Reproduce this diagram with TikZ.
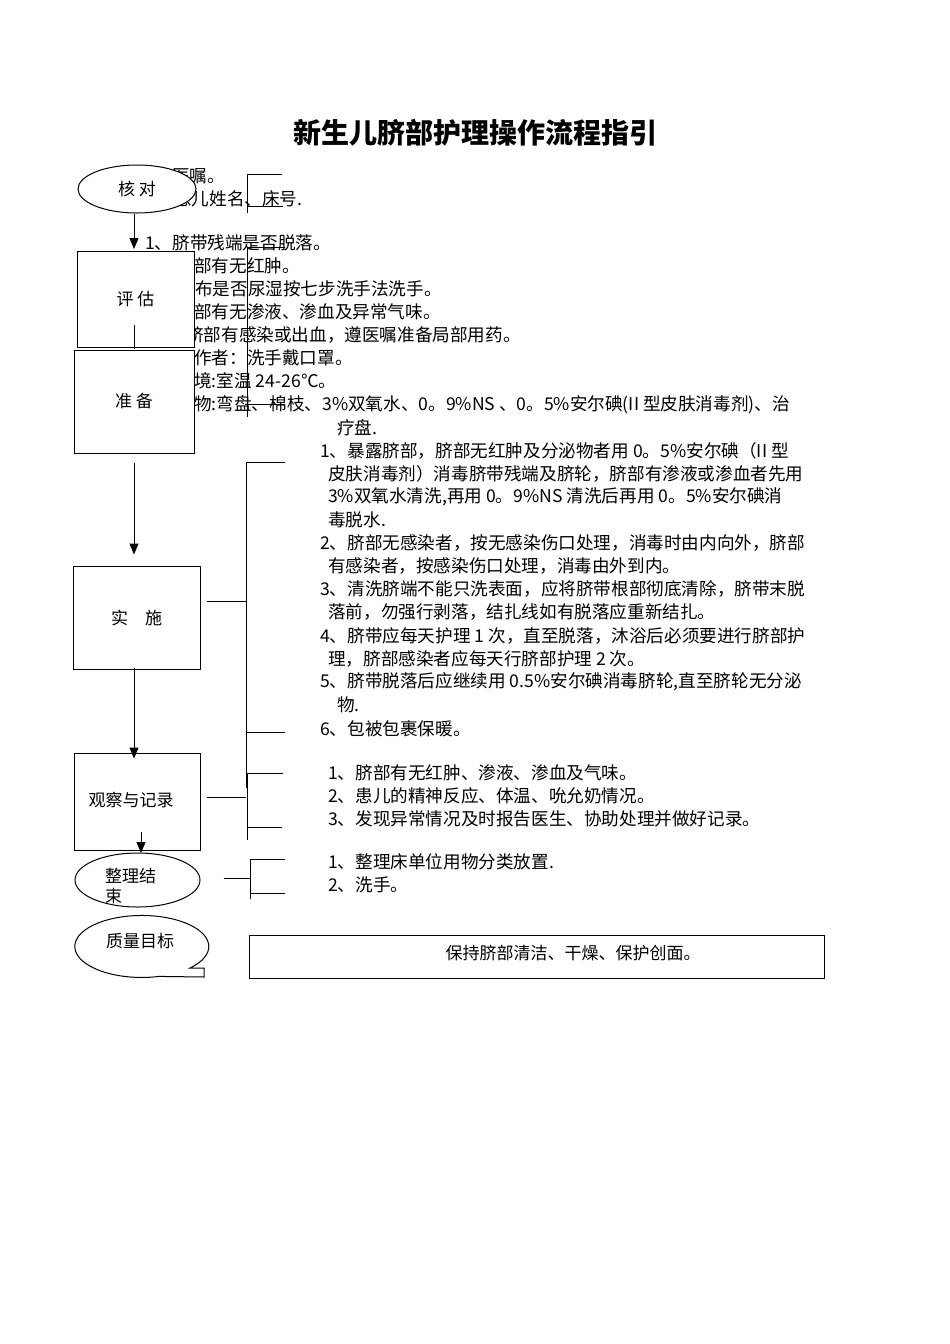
\documentclass[tikz,border=0pt]{standalone}
\usepackage{fontspec}
\setmainfont{Noto Sans CJK SC}
\usetikzlibrary{shapes,arrows.meta}

\tikzset{
  txt/.style={anchor=west, inner sep=0pt, font=\fontsize{17.6}{20}\selectfont},
  flowbox/.style={draw, fill=white, line width=1pt, inner sep=0pt, font=\fontsize{17}{20}\selectfont},
  flowell/.style={flowbox, ellipse},
  brk/.style={line width=1pt}
}

\begin{document}
\begin{tikzpicture}[x=1pt, y=-1pt, >={Triangle[length=11pt,width=9pt]}]
\useasboundingbox (0,0) rectangle (950,1344);

\node[font=\bfseries\fontsize{28}{32}\selectfont] (title) at (475,133) {新生儿脐部护理操作流程指引};

% text of the left column
\node[txt] (t1) at (172,176) {医嘱。};
\node[txt] (t2) at (174,199) {患儿姓名、床号.};
\node[txt] (t3) at (145,243) {1、脐带残端是否脱落。};
\node[txt] (t4) at (194,266) {部有无红肿。};
\node[txt] (t5) at (195,289) {布是否尿湿按七步洗手法洗手。};
\node[txt] (t6) at (194,312) {部有无渗液、渗血及异常气味。};
\node[txt] (t7) at (186,335) {脐部有感染或出血，遵医嘱准备局部用药。};
\node[txt] (t8) at (194,358) {作者：洗手戴口罩。};
\node[txt] (t9) at (194,381) {境:室温 24-26℃。};
\node[txt] (t10) at (194,405) {物:弯盘、棉枝、3\%双氧水、0。9\%NS 、0。5\%安尔碘(II 型皮肤消毒剂)、治};
\node[txt] (t11) at (337,428) {疗盘.};

\node[txt] (s1) at (320,451) {1、暴露脐部，脐部无红肿及分泌物者用 0。5\%安尔碘（II 型};
\node[txt] (s2) at (328,474) {皮肤消毒剂）消毒脐带残端及脐轮，脐部有渗液或渗血者先用};
\node[txt] (s3) at (328,497) {3\%双氧水清洗,再用 0。9\%NS 清洗后再用 0。5\%安尔碘消};
\node[txt] (s4) at (328,520) {毒脱水.};
\node[txt] (s5) at (320,543) {2、脐部无感染者，按无感染伤口处理，消毒时由内向外，脐部};
\node[txt] (s6) at (328,566) {有感染者，按感染伤口处理，消毒由外到内。};
\node[txt] (s7) at (320,589) {3、清洗脐端不能只洗表面，应将脐带根部彻底清除，脐带末脱};
\node[txt] (s8) at (328,612) {落前，勿强行剥落，结扎线如有脱落应重新结扎。};
\node[txt] (s9) at (320,636) {4、脐带应每天护理 1 次，直至脱落，沐浴后必须要进行脐部护};
\node[txt] (s10) at (328,659) {理，脐部感染者应每天行脐部护理 2 次。};
\node[txt] (s11) at (320,682) {5、脐带脱落后应继续用 0.5\%安尔碘消毒脐轮,直至脐轮无分泌};
\node[txt] (s12) at (337,705) {物.};
\node[txt] (s13) at (320,729) {6、包被包裹保暖。};

\node[txt] (g1) at (328,773) {1、脐部有无红肿、渗液、渗血及气味。};
\node[txt] (g2) at (328,796) {2、患儿的精神反应、体温、吮允奶情况。};
\node[txt] (g3) at (328,819) {3、发现异常情况及时报告医生、协助处理并做好记录。};

\node[txt] (z1) at (328,862) {1、整理床单位用物分类放置.};
\node[txt] (z2) at (328,885) {2、洗手。};

% brackets
\draw[brk] (282,174) -- (247,174) -- (247,213);
\draw[brk] (247,206) -- (283,206);
\draw[brk] (285,247) -- (247,247) -- (247,417);
\draw[brk] (247,404) -- (285,404);
\draw[brk] (285,462) -- (246,462) -- (246,788);
\draw[brk] (246,732) -- (285,732);
\draw[brk] (283,773) -- (247,773) -- (247,840);
\draw[brk] (247,827) -- (282,827);
\draw[brk] (285,859) -- (250,859) -- (250,899);
\draw[brk] (250,893) -- (285,893);

% flow shapes
\node[flowell, minimum width=118pt, minimum height=48pt] (hedui) at (137,189) {核\ 对};
\node[flowbox, minimum width=117pt, minimum height=96pt] (pinggu) at (135.5,299) {评\ 估};
\draw[brk] (134,325) -- (134,349);
\node[flowbox, minimum width=120pt, minimum height=103pt] (zhunbei) at (134,401.5) {准\ 备};
\node[flowbox, minimum width=127pt, minimum height=103pt] (shishi) at (136.5,617.5) {实\quad 施};
\node[flowbox, minimum width=126pt, minimum height=97pt] (guancha) at (137,801.5) {};
\node[font=\fontsize{17}{20}\selectfont] (gclabel) at (131,800) {观察与记录};
\node[flowell, minimum width=125pt, minimum height=54pt] (zhengli) at (137.5,880) {};
\node[font=\fontsize{17}{20}\selectfont, align=left, anchor=north west, inner sep=0pt] (zllabel) at (105,868) {整理结\\束};

% quality callout
\draw[line width=1pt, fill=white] (190,968) arc[start angle=44, end angle=-285, x radius=67, y radius=31] -- (204,977) -- (204,968) -- cycle;
\node[font=\fontsize{17}{20}\selectfont] (zhiliang) at (140,941) {质量目标};
\node[flowbox, minimum width=575pt, minimum height=43pt] (mubiao) at (536.5,956.5) {};
\node[font=\fontsize{17}{20}\selectfont] (mblabel) at (573,953) {保持脐部清洁、干燥、保护创面。};

% connectors
\draw[brk, ->] (hedui.south -| 134,0) -- (134,249);
\draw[brk, ->] ([yshift=-9pt]zhunbei.south) -- ([yshift=11pt]zhunbei.south |- shishi.north);
\draw[brk, ->] ([xshift=-2.5pt,yshift=2pt]shishi.south) -- ([xshift=-3pt,yshift=-6pt]guancha.north);
\draw[brk, ->] (141,832) -- (141,853);
\draw[brk] ([xshift=6pt]shishi.east |- 0,601) -- (246,601);
\draw[brk] ([xshift=6pt]guancha.east |- 0,797) -- (246,797);
\draw[brk] ([xshift=23pt]zhengli.east |- 0,878) -- (250,878);
\end{tikzpicture}
\end{document}
